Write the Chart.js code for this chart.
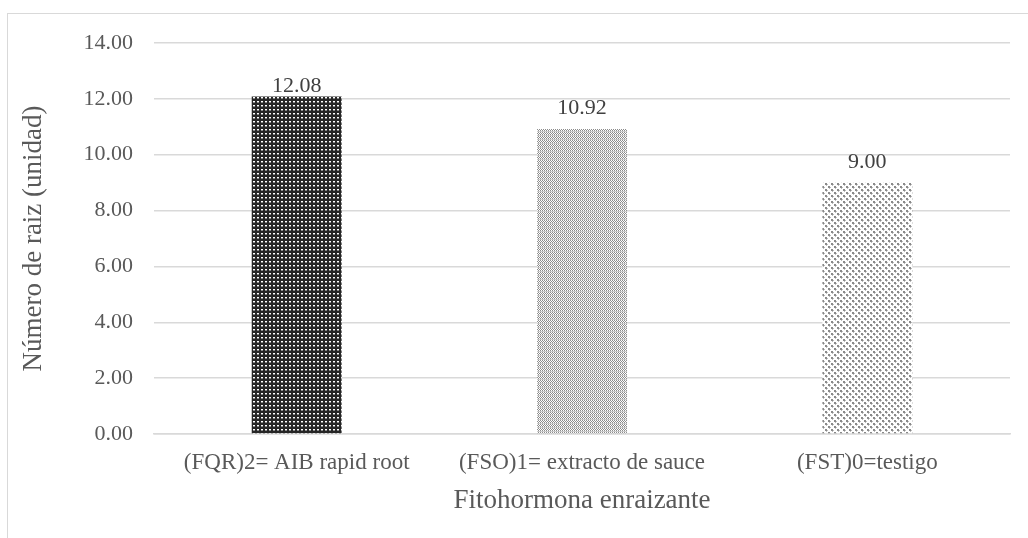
<!DOCTYPE html>
<html lang="es">
<head>
  <meta charset="UTF-8" />
  <title>Número de raiz</title>
  <script src="https://cdn.jsdelivr.net/npm/chart.js"></script>
  <style>
    body { margin: 0; background: #fff; }
    #frame { position: absolute; left: 7px; top: 13px; width: 1040px; height: 560px; border: 1.5px solid #d9d9d9; box-sizing: border-box; }
    #wrap { position: absolute; left: 0; top: 0; width: 1028px; height: 538px; }
  </style>
</head>
<body>
  <div id="frame"></div>
  <div id="wrap"><canvas id="rootChart" width="1028" height="538"></canvas></div>
  <script>
    const categories = ['(FQR)2= AIB rapid root', '(FSO)1= extracto de sauce', '(FST)0=testigo'];
    const rootCounts = [12.08, 10.92, 9.00];
    const yTicks = [0, 2, 4, 6, 8, 10, 12, 14];

    const serif = '"Liberation Serif", "Times New Roman", serif';

    // little tiles that mimic the Excel fill patterns
    function makePattern(kind) {
      const c = document.createElement('canvas');
      const g = c.getContext('2d');
      if (kind === 'dark') {
        c.width = 4; c.height = 4;
        g.fillStyle = '#262626'; g.fillRect(0, 0, 4, 4);
        g.fillStyle = '#ffffff'; g.fillRect(1, 1, 2, 1);
        g.fillStyle = '#8a8a8a'; g.fillRect(1, 2, 2, 1);
      } else if (kind === 'check') {
        c.width = 4; c.height = 4;
        g.fillStyle = '#ffffff'; g.fillRect(0, 0, 4, 4);
        g.fillStyle = '#8c8c8c';
        g.fillRect(0, 0, 1, 1); g.fillRect(2, 0, 1, 1);
        g.fillRect(1, 1, 1, 1); g.fillRect(3, 1, 1, 1);
        g.fillRect(0, 2, 1, 1); g.fillRect(2, 2, 1, 1);
        g.fillRect(1, 3, 1, 1); g.fillRect(3, 3, 1, 1);
        g.fillStyle = '#c8c8c8'; g.fillRect(0, 3, 4, 1);
      } else {
        c.width = 6; c.height = 6;
        g.fillStyle = '#ffffff'; g.fillRect(0, 0, 6, 6);
        g.fillStyle = '#8a8a8a';
        g.fillRect(0, 0, 2, 2); g.fillRect(3, 3, 2, 2);
        g.fillStyle = '#bcbcbc';
        g.fillRect(2, 1, 1, 1); g.fillRect(1, 2, 1, 1);
        g.fillRect(5, 4, 1, 1); g.fillRect(4, 5, 1, 1);
      }
      return g.createPattern(c, 'repeat');
    }
    const barFills = [makePattern('dark'), makePattern('check'), makePattern('diamond')];

    const valueLabels = {
      id: 'valueLabels',
      afterDatasetsDraw(chart) {
        const ctx = chart.ctx;
        const meta = chart.getDatasetMeta(0);
        ctx.save();
        ctx.font = '22px ' + serif;
        ctx.fillStyle = '#404040';
        ctx.textAlign = 'center';
        ctx.textBaseline = 'alphabetic';
        meta.data.forEach((bar, i) => {
          const off = i === 0 ? 5 : 15;
          ctx.fillText(rootCounts[i].toFixed(2), bar.x, bar.y - off);
        });
        ctx.restore();
      }
    };

    new Chart(document.getElementById('rootChart'), {
      type: 'bar',
      data: {
        labels: categories,
        datasets: [{
          data: rootCounts,
          backgroundColor: barFills,
          borderWidth: 0,
          categoryPercentage: 1,
          barPercentage: 0.315
        }]
      },
      plugins: [valueLabels],
      options: {
        responsive: false,
        animation: false,
        layout: { padding: { left: 14, right: 18, top: 43, bottom: 17 } },
        plugins: { legend: { display: false }, tooltip: { enabled: false } },
        scales: {
          x: {
            grid: { display: false, drawTicks: false },
            border: { color: '#d9d9d9', width: 1.5 },
            ticks: {
              padding: 15,
              color: '#595959',
              font: { family: serif, size: 23 }
            },
            title: {
              display: true,
              text: 'Fitohormona enraizante',
              color: '#595959',
              font: { family: serif, size: 27 }
            },
            afterFit: s => { s.height = 87; }
          },
          y: {
            min: 0,
            max: 14,
            afterBuildTicks: s => { s.ticks = yTicks.map(v => ({ value: v })); },
            grid: { color: '#d9d9d9', lineWidth: 1.5, drawTicks: false },
            border: { display: false },
            ticks: {
              padding: 21,
              color: '#595959',
              callback: v => v.toFixed(2),
              font: { family: serif, size: 22 }
            },
            title: {
              display: true,
              text: 'Número de raiz (unidad)',
              color: '#595959',
              font: { family: serif, size: 27 }
            },
            afterFit: s => { s.width = 140; }
          }
        }
      }
    });
  </script>
</body>
</html>
